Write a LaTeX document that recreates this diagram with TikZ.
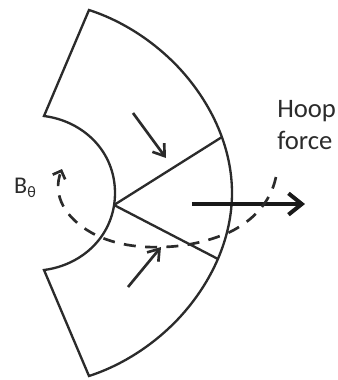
\documentclass[tikz,border=0pt]{standalone}
\usepackage{fontspec}
\setmainfont{Carlito}
\usetikzlibrary{arrows.meta}
\definecolor{ink}{gray}{0.17}
\tikzset{outline/.style={line width=1.75pt,ink},
arrowline/.style={line width=2pt,ink,-{Straight Barb[length=8pt,width=11pt,line width=2pt]}},
labeltext/.style={text=ink}}
\begin{document}
\begin{tikzpicture}[x=0.75pt,y=-0.75pt]
\useasboundingbox (0,0) rectangle (337,380);
\coordinate (c) at (114,205);
\coordinate (t) at (222,137);
\coordinate (u) at (218,259);
\coordinate (a) at (89,10);
\coordinate (d) at (89,376);
\coordinate (e) at (44,116);
\coordinate (f) at (44,270);
\draw[outline] (c) -- (t);
\draw[outline] (c) -- (u);
\draw[outline,line join=miter] (e) -- (a)
  .. controls (123,21) and (155,42) .. (180,69)
  .. controls (212,104) and (232,148) .. (232,193)
  .. controls (232,238) and (212,282) .. (180,317)
  .. controls (155,344) and (123,365) .. (89,376) -- (f)
  .. controls (83,265) and (115,235) .. (115,193)
  .. controls (115,151) and (83,121) .. (e) -- cycle;
\draw[arrowline] (133,113) -- (166,158);
\draw[arrowline] (128,287) -- (161,247);
\draw[line width=3.4pt,black!90,-{Straight Barb[length=10pt,width=16pt,line width=3pt]}] (192,204) -- (305,204);
\draw[line width=2pt,ink,dash pattern=on 9pt off 7pt,-{Straight Barb[length=5pt,width=10pt,line width=2pt]}]
  (276,177) .. controls (270,205) and (250,222) .. (230,232)
  .. controls (205,243) and (180,247) .. (160,247)
  .. controls (135,248) and (110,243) .. (92,233)
  .. controls (65,218) and (52,195) .. (62,169);
\node[labeltext,font=\fontsize{18}{20}\selectfont] (b) at (25,188) {B\raisebox{-3.5pt}{\fontsize{12}{12}\selectfont θ}};
\node[labeltext,font=\fontsize{20}{23.5}\selectfont,align=left,anchor=west,inner sep=0pt] (h) at (277,125) {Hoop\\force};
\end{tikzpicture}
\end{document}
